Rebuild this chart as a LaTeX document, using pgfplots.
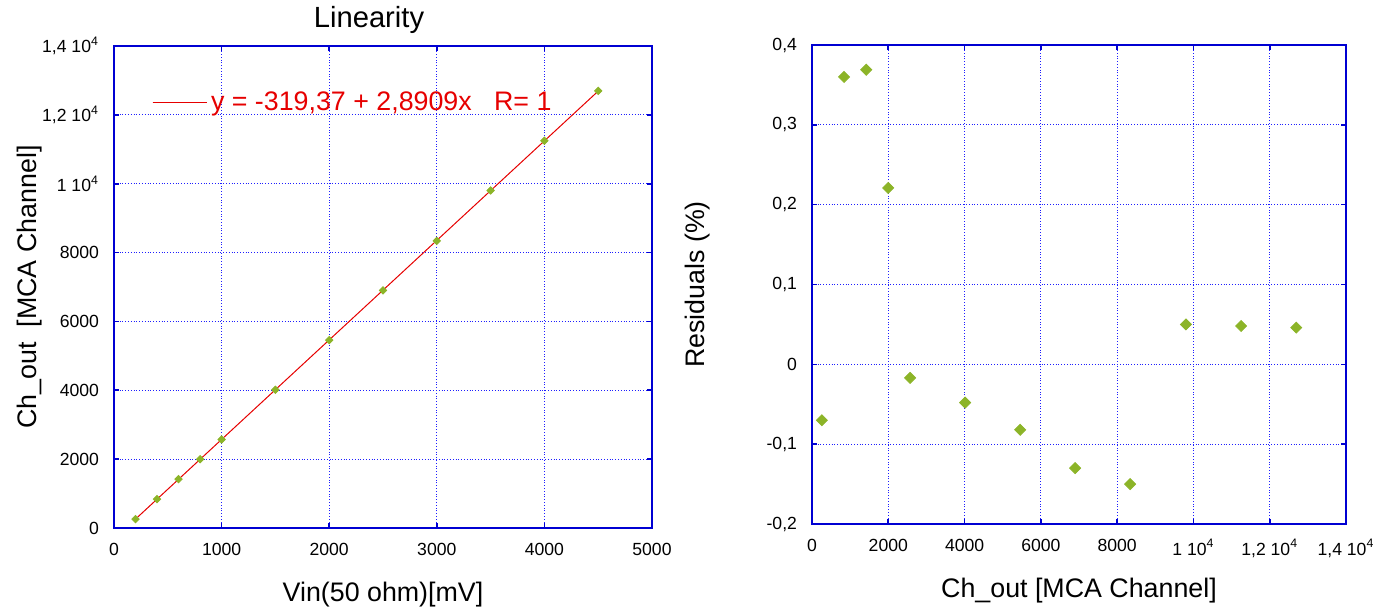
\documentclass[border=0pt]{standalone}
\usepackage{pgfplots}
\pgfplotsset{compat=1.18}
\usepackage{fontspec}
\setmainfont{Liberation Sans}
\definecolor{axblue}{RGB}{0,0,210}
\definecolor{grblue}{RGB}{30,30,255}
\definecolor{mgreen}{RGB}{140,180,40}
\definecolor{fitred}{RGB}{230,0,0}
\begin{document}
\begin{tikzpicture}
\useasboundingbox (0,0) rectangle (688pt,307pt);
\pgfplotsset{
 myaxis/.style={
  scale only axis,
  scaled ticks=false,
  axis line style={axblue, line width=0.8pt},
  grid=major,
  major grid style={grblue, densely dotted, line width=0.55pt},
  tick style={axblue, line width=0.8pt},
  major tick length=2.5pt,
  tick align=inside,
  ticklabel style={font=\fontsize{8.8}{10}\selectfont},
  label style={font=\fontsize{13.4}{16}\selectfont},
  xticklabel shift=4pt,
  yticklabel shift=4pt,
  every axis title shift=0pt,
  /pgf/number format/assume math mode=true,
 }
}
\begin{axis}[myaxis, at={(57pt,43pt)}, anchor=south west, width=269pt, height=241pt,
 xmin=0, xmax=5000, ymin=0, ymax=14000,
 xtick={0,1000,2000,3000,4000,5000},
 ytick={0,2000,4000,6000,8000,10000,12000,14000},
 xticklabels={0,1000,2000,3000,4000,5000},
 yticklabels={0,2000,4000,6000,8000,{1 10\textsuperscript{4}},{1,2 10\textsuperscript{4}},{1,4 10\textsuperscript{4}}},
 xlabel={Vin(50 ohm)[mV]},
 ylabel={Ch\_out\ \ [MCA Channel]},
 xlabel style={at={(axis description cs:0.5,-0.139)}, anchor=center},
 ylabel style={at={(axis description cs:-0.156,0.5)}, anchor=center},
 title={Linearity},
 title style={at={(axis description cs:0.474,1.054)}, anchor=center, font=\fontsize{14.6}{17}\selectfont},
 legend style={at={(axis description cs:0.07,0.882)}, anchor=west, draw=none, fill=none, inner sep=0pt,
   font=\fontsize{13.4}{16}\selectfont, text=fitred, cells={anchor=west}},
]
\addplot[fitred, line width=0.5pt, no marks,
  legend image code/.code={\draw[fitred, line width=0.5pt] (0pt,0pt) -- (24pt,0pt); \path (0pt,0pt) -- (27pt,0pt);}]
  coordinates {(200,258.8) (4500,12689.7)};
\addlegendentry{y = -319,37 + 2,8909x\ \ \ R= 1}
\addplot[only marks, mark=square*, mark options={rotate=45}, mark size=1.3pt, mgreen, forget plot] coordinates {
 (200,258.6) (400,840.0) (600,1420.4) (800,1997.8) (1000,2571.1) (1500,4015.1)
 (2000,5457.9) (2500,6898.9) (3000,8340.8) (3500,9803.7) (4000,11249.6) (4500,12695.5)};
\end{axis}
\begin{axis}[myaxis, at={(406pt,45pt)}, anchor=south west, width=267pt, height=239.5pt,
 xmin=0, xmax=14000, ymin=-0.2, ymax=0.4,
 xtick={0,2000,4000,6000,8000,10000,12000,14000},
 ytick={-0.2,-0.1,0,0.1,0.2,0.3,0.4},
 xticklabels={0,2000,4000,6000,8000,{1 10\textsuperscript{4}},{1,2 10\textsuperscript{4}},{1,4 10\textsuperscript{4}}},
 yticklabels={{-0,2},{-0,1},0,{0,1},{0,2},{0,3},{0,4}},
 xlabel={Ch\_out [MCA Channel]},
 ylabel={Residuals (\%)},
 xlabel style={at={(axis description cs:0.5,-0.138)}, anchor=center},
 ylabel style={at={(axis description cs:-0.215,0.5)}, anchor=center},
]
\addplot[only marks, mark=square*, mark options={rotate=45}, mark size=1.95pt, mgreen] coordinates {
 (258.6,-0.070) (840.0,0.360) (1420.4,0.369) (1997.8,0.221) (2571.1,-0.017) (4015.1,-0.048)
 (5457.9,-0.082) (6898.9,-0.130) (8340.8,-0.150) (9803.7,0.050) (11249.6,0.048) (12695.5,0.046)};
\end{axis}
\end{tikzpicture}
\end{document}
